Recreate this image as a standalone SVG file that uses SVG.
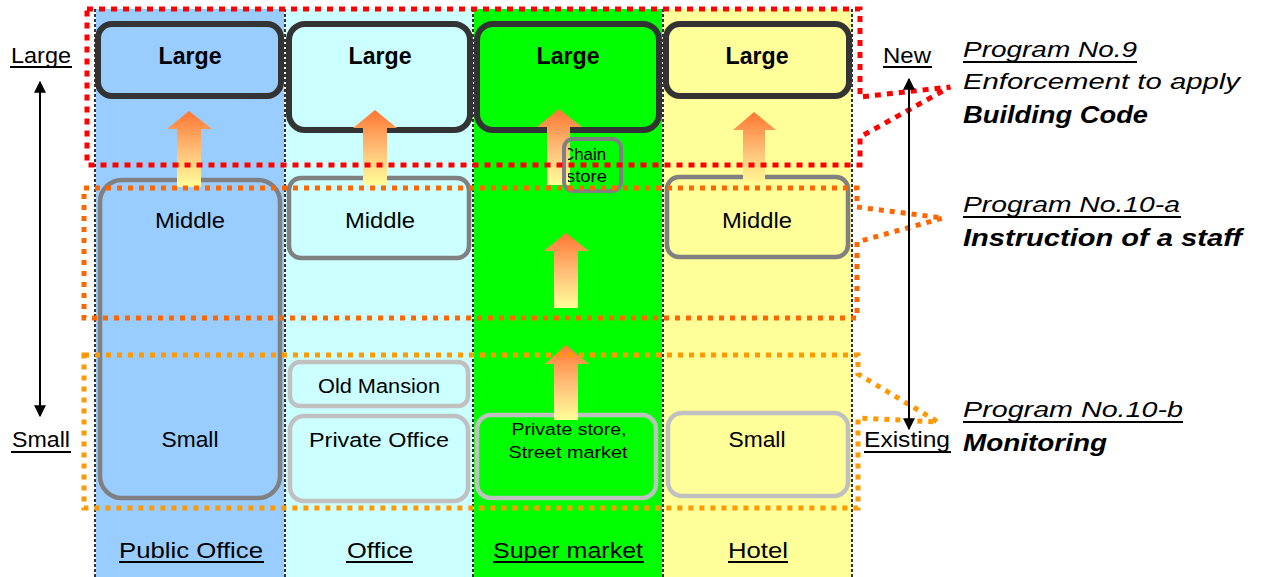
<svg xmlns="http://www.w3.org/2000/svg" width="1262" height="577" viewBox="0 0 1262 577">
  <style>
    text { font-family: "Liberation Sans", Arial, sans-serif; fill: #000; }
    .lbl { font-size: 22px; text-anchor: middle; }
    .big { font-size: 23px; font-weight: bold; text-anchor: middle; }
    .sm { font-size: 17px; text-anchor: middle; }
    .prog { font-size: 22px; font-style: italic; }
    .progb { font-size: 23px; font-style: italic; font-weight: bold; }
    .ul { stroke: #000; stroke-width: 2; }
    .boxL { stroke: #333333; stroke-width: 6; }
    .boxM { stroke: #808080; stroke-width: 4.5; }
    .boxS { stroke: #C0C0C0; stroke-width: 4.5; }
    .div-w { stroke: #fff; stroke-width: 2; }
    .div-k { stroke: #000; stroke-width: 1.6; stroke-dasharray: 3 2; }
    .call { fill: none; stroke-width: 5; stroke-linejoin: miter; }
    .axis { stroke: #000; stroke-width: 2; marker-start: url(#ah); marker-end: url(#ah); }
    .up { fill: url(#upGrad); }
  </style>
  <defs>
    <linearGradient id="upGrad" x1="0" y1="0" x2="0" y2="1">
      <stop offset="0" stop-color="#FF7733"/>
      <stop offset="0.55" stop-color="#FFC27A"/>
      <stop offset="1" stop-color="#FFFF99"/>
    </linearGradient>
    <marker id="ah" viewBox="0 0 10 10" refX="9" refY="5" markerWidth="6" markerHeight="6" orient="auto-start-reverse">
      <path d="M0,0 L10,5 L0,10 Z" fill="#000"/>
    </marker>
    <clipPath id="chainClip">
      <rect x="568" y="141" width="51" height="48"/>
    </clipPath>
  </defs>

  <rect width="1262" height="577" fill="#fff"/>

  <!-- category columns -->
  <g id="columns">
    <rect x="95" y="9" width="190" height="568" fill="#99CCFF"/>
    <rect x="285" y="9" width="188" height="568" fill="#CCFFFF"/>
    <rect x="473" y="9" width="190" height="568" fill="#00FF00"/>
    <rect x="663" y="9" width="190" height="568" fill="#FFFF99"/>
    <g>
      <line class="div-w" x1="95" y1="9" x2="95" y2="577"/>
      <line class="div-k" x1="95" y1="9" x2="95" y2="577"/>
      <line class="div-w" x1="285" y1="9" x2="285" y2="577"/>
      <line class="div-k" x1="285" y1="9" x2="285" y2="577"/>
      <line class="div-w" x1="473" y1="9" x2="473" y2="577"/>
      <line class="div-k" x1="473" y1="9" x2="473" y2="577"/>
      <line class="div-w" x1="663" y1="9" x2="663" y2="577"/>
      <line class="div-k" x1="663" y1="9" x2="663" y2="577"/>
      <line class="div-w" x1="852" y1="9" x2="852" y2="577"/>
      <line class="div-k" x1="852" y1="9" x2="852" y2="577"/>
    </g>
  </g>

  <!-- Public Office -->
  <g id="public-large">
    <rect class="boxL" x="98" y="24" width="183" height="72" rx="14" fill="#99CCFF"/>
    <text class="big" x="190" y="64" textLength="63" lengthAdjust="spacingAndGlyphs">Large</text>
  </g>
  <g id="public-middle-small">
    <rect class="boxM" x="100" y="180" width="180" height="318" rx="22" fill="#99CCFF"/>
    <text class="lbl" x="190" y="228" textLength="70" lengthAdjust="spacingAndGlyphs">Middle</text>
    <text class="lbl" x="190" y="447" textLength="57" lengthAdjust="spacingAndGlyphs">Small</text>
  </g>

  <!-- Office -->
  <g id="office-large">
    <rect class="boxL" x="289" y="24" width="181" height="106" rx="16" fill="#CCFFFF"/>
    <text class="big" x="380" y="64" textLength="63" lengthAdjust="spacingAndGlyphs">Large</text>
  </g>
  <g id="office-middle">
    <rect class="boxM" x="289" y="178" width="180" height="80" rx="12" fill="#CCFFFF"/>
    <text class="lbl" x="380" y="228" textLength="70" lengthAdjust="spacingAndGlyphs">Middle</text>
  </g>
  <g id="office-old-mansion">
    <rect class="boxS" x="290" y="362" width="178" height="44" rx="10" fill="#CCFFFF"/>
    <text class="sm" x="379" y="393" style="font-size:20px" textLength="122" lengthAdjust="spacingAndGlyphs">Old Mansion</text>
  </g>
  <g id="office-private">
    <rect class="boxS" x="290" y="416" width="178" height="85" rx="14" fill="#CCFFFF"/>
    <text class="sm" x="379" y="447" style="font-size:20px" textLength="140" lengthAdjust="spacingAndGlyphs">Private Office</text>
  </g>

  <!-- Super market -->
  <g id="super-large">
    <rect class="boxL" x="477" y="24" width="182" height="106" rx="16" fill="#00FF00"/>
    <text class="big" x="568" y="64" textLength="63" lengthAdjust="spacingAndGlyphs">Large</text>
  </g>
  <g id="super-private">
    <rect class="boxS" x="477" y="415" width="179" height="83" rx="14" fill="#00FF00"/>
    <text class="sm" x="569" y="435" textLength="115" lengthAdjust="spacingAndGlyphs">Private store,</text>
    <text class="sm" x="568" y="458" textLength="119" lengthAdjust="spacingAndGlyphs">Street market</text>
  </g>

  <!-- Hotel -->
  <g id="hotel-large">
    <rect class="boxL" x="666" y="24" width="183" height="72" rx="14" fill="#FFFF99"/>
    <text class="big" x="757" y="64" textLength="63" lengthAdjust="spacingAndGlyphs">Large</text>
  </g>
  <g id="hotel-middle">
    <rect class="boxM" x="667" y="177" width="181" height="80" rx="12" fill="#FFFF99"/>
    <text class="lbl" x="757" y="228" textLength="70" lengthAdjust="spacingAndGlyphs">Middle</text>
  </g>
  <g id="hotel-small">
    <rect class="boxS" x="668" y="413" width="180" height="83" rx="14" fill="#FFFF99"/>
    <text class="lbl" x="757" y="447" textLength="57" lengthAdjust="spacingAndGlyphs">Small</text>
  </g>

  <!-- growth arrows -->
  <g id="connectors">
    <path class="up" d="M189,111 L212,129 L201,129 L201,187 L177,187 L177,129 L167,129 Z"/>
    <path class="up" d="M375,110 L397,128 L387,128 L387,185 L363,185 L363,128 L353,128 Z"/>
    <path class="up" d="M559,109 L582,127 L570,127 L570,185 L547,185 L547,127 L537,127 Z"/>
    <path class="up" d="M754,112 L776,130 L765,130 L765,186 L743,186 L743,130 L733,130 Z"/>
    <path class="up" d="M566,233 L589,251 L578,251 L578,308 L554,308 L554,251 L544,251 Z"/>
    <path class="up" d="M566,345 L589,364 L578,364 L578,420 L554,420 L554,364 L545,364 Z"/>
  </g>

  <g id="super-chain">
    <rect x="564" y="139" width="57" height="52" rx="9" fill="none" stroke="#808080" stroke-width="4"/>
    <g clip-path="url(#chainClip)">
      <text x="562" y="160" style="font-size:17px" textLength="44" lengthAdjust="spacingAndGlyphs">Chain</text>
      <text x="566" y="182" style="font-size:17px" textLength="41" lengthAdjust="spacingAndGlyphs">store</text>
    </g>
  </g>

  <!-- program callouts -->
  <g id="callout-9">
    <path class="call" stroke="#FF0000" stroke-dasharray="6 6" d="M87,9 H860 V97 L950,87 L860,137 V165 H87 Z"/>
  </g>
  <g id="callout-10a">
    <path class="call" stroke="#FF6600" stroke-dasharray="5 6" d="M84,188 H857 V207 L943,218 L857,242 V318 H84 Z"/>
  </g>
  <g id="callout-10b">
    <path class="call" stroke="#FF9900" stroke-dasharray="5 6" d="M84,355 H858 V374 L938,422 L858,418 V508 H84 Z"/>
  </g>

  <!-- size axis -->
  <g id="axis-size">
    <line class="axis" x1="40" y1="82" x2="40" y2="416"/>
    <text x="41" y="63" class="lbl" textLength="60" lengthAdjust="spacingAndGlyphs">Large</text>
    <line class="ul" x1="10" y1="67" x2="72" y2="67"/>
    <text x="41" y="447" class="lbl" textLength="58" lengthAdjust="spacingAndGlyphs">Small</text>
    <line class="ul" x1="11" y1="452" x2="71" y2="452"/>
  </g>

  <!-- age axis -->
  <g id="axis-age">
    <line class="axis" x1="909" y1="79" x2="909" y2="429"/>
    <text x="907" y="63" class="lbl" textLength="48" lengthAdjust="spacingAndGlyphs">New</text>
    <line class="ul" x1="883" y1="67" x2="932" y2="67"/>
    <text x="907" y="447" class="lbl" textLength="86" lengthAdjust="spacingAndGlyphs">Existing</text>
    <line class="ul" x1="864" y1="452" x2="951" y2="452"/>
  </g>

  <!-- column captions -->
  <g id="captions">
    <text class="lbl" x="191" y="558" textLength="144" lengthAdjust="spacingAndGlyphs">Public Office</text>
    <line class="ul" x1="119" y1="562" x2="264" y2="562"/>
    <text class="lbl" x="380" y="558" textLength="66" lengthAdjust="spacingAndGlyphs">Office</text>
    <line class="ul" x1="346" y1="562" x2="413" y2="562"/>
    <text class="lbl" x="568" y="558" textLength="150" lengthAdjust="spacingAndGlyphs">Super market</text>
    <line class="ul" x1="493" y1="562" x2="644" y2="562"/>
    <text class="lbl" x="758" y="558" textLength="60" lengthAdjust="spacingAndGlyphs">Hotel</text>
    <line class="ul" x1="728" y1="562" x2="788" y2="562"/>
  </g>

  <!-- program descriptions -->
  <g id="program-9">
    <text class="prog" x="963" y="57" textLength="174" lengthAdjust="spacingAndGlyphs">Program No.9</text>
    <line class="ul" x1="963" y1="62" x2="1137" y2="62"/>
    <text class="prog" x="963" y="89" textLength="277" lengthAdjust="spacingAndGlyphs">Enforcement to apply</text>
    <text class="progb" x="963" y="123" textLength="185" lengthAdjust="spacingAndGlyphs">Building Code</text>
  </g>
  <g id="program-10a">
    <text class="prog" x="963" y="212" textLength="217" lengthAdjust="spacingAndGlyphs">Program No.10-a</text>
    <line class="ul" x1="963" y1="217" x2="1181" y2="217"/>
    <text class="progb" x="963" y="246" textLength="279" lengthAdjust="spacingAndGlyphs">Instruction of a staff</text>
  </g>
  <g id="program-10b">
    <text class="prog" x="963" y="417" textLength="220" lengthAdjust="spacingAndGlyphs">Program No.10-b</text>
    <line class="ul" x1="963" y1="422" x2="1183" y2="422"/>
    <text class="progb" x="963" y="451" textLength="144" lengthAdjust="spacingAndGlyphs">Monitoring</text>
  </g>
</svg>
